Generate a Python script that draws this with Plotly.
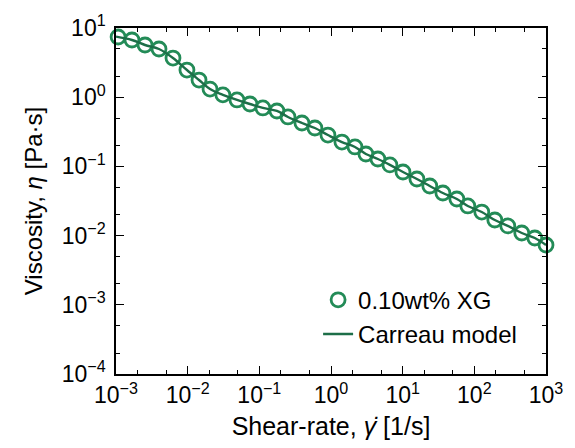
import plotly.graph_objects as go

# Measured data: 0.10wt% XG (shear-rate [1/s], viscosity [Pa·s])
shear_rate = [0.00107, 0.00167, 0.00254, 0.00398, 0.00624, 0.00977, 0.0144, 0.0205,
              0.0310, 0.0488, 0.0740, 0.112, 0.176, 0.251, 0.393, 0.596, 0.906,
              1.42, 2.16, 3.07, 4.51, 6.64, 10.1, 15.8, 23.9, 36.4, 57.0, 81.1,
              127, 193, 293, 459, 698, 1000]
viscosity = [7.41, 6.71, 5.68, 4.97, 3.68, 2.47, 1.77, 1.31, 1.08, 0.912, 0.798,
             0.699, 0.632, 0.518, 0.424, 0.359, 0.284, 0.225, 0.191, 0.151, 0.128,
             0.105, 0.0830, 0.0657, 0.0521, 0.0413, 0.0338, 0.0268, 0.0219, 0.0168,
             0.0138, 0.0109, 0.00923, 0.00731]

# Carreau model curve
model_rate = [0.001, 0.00167, 0.00254, 0.00398, 0.00624, 0.00977, 0.0144, 0.0205,
              0.0310, 0.0488, 0.0740, 0.112, 0.176, 0.251, 0.393, 0.596, 0.906,
              1.42, 2.16, 3.07, 4.51, 6.64, 10.1, 15.8, 23.9, 36.4, 57.0, 81.1,
              127, 193, 293, 459, 698, 1000]
model_visc = [7.5, 6.71, 5.68, 4.97, 3.68, 2.47, 1.77, 1.31, 1.08, 0.912, 0.798,
              0.699, 0.632, 0.518, 0.424, 0.359, 0.284, 0.225, 0.191, 0.151, 0.128,
              0.105, 0.0830, 0.0657, 0.0521, 0.0413, 0.0338, 0.0268, 0.0219, 0.0168,
              0.0138, 0.0109, 0.00923, 0.00731]

x_tickvals = [1e-3, 1e-2, 1e-1, 1e0, 1e1, 1e2, 1e3]
x_ticktext = ["10<sup>−3</sup>", "10<sup>−2</sup>", "10<sup>−1</sup>", "10<sup>0</sup>",
              "10<sup>1</sup>", "10<sup>2</sup>", "10<sup>3</sup>"]
y_tickvals = [1e-4, 1e-3, 1e-2, 1e-1, 1e0, 1e1]
y_ticktext = ["10<sup>−4</sup>", "10<sup>−3</sup>", "10<sup>−2</sup>", "10<sup>−1</sup>",
              "10<sup>0</sup>", "10<sup>1</sup>"]

FONT = "Liberation Sans, Arial, Helvetica, sans-serif"
MARK = "#238b57"
LINE = "#1d6e48"

fig = go.Figure()
fig.add_trace(go.Scatter(
    x=shear_rate, y=viscosity, mode="markers", name="0.10wt% XG",
    marker=dict(symbol="circle-open", size=14, color=MARK, line=dict(width=2.8, color=MARK)),
    cliponaxis=False,
))
fig.add_trace(go.Scatter(
    x=model_rate, y=model_visc, mode="lines", name="Carreau model",
    line=dict(color=LINE, width=2.4, shape="spline"),
))

axis_common = dict(
    type="log", showgrid=False, zeroline=False,
    showline=True, linecolor="black", linewidth=1.5, mirror="ticks",
    ticks="inside", ticklen=8, tickwidth=1.2, tickcolor="black",
    minor=dict(ticks="inside", ticklen=4, tickwidth=1, tickcolor="black", showgrid=False),
    tickfont=dict(family=FONT, size=23, color="black"),
)

fig.update_xaxes(**axis_common, range=[-3, 3], tickvals=x_tickvals, ticktext=x_ticktext,
                 title=dict(text="Shear-rate, <i>γ̇</i> [1/s]",
                            font=dict(family=FONT, size=25, color="black"), standoff=10))
fig.update_yaxes(**axis_common, range=[-4, 1], tickvals=y_tickvals, ticktext=y_ticktext,
                 ticklabelstandoff=4,
                 title=dict(text="Viscosity, <i>η</i> [Pa·s]",
                            font=dict(family=FONT, size=24, color="black"), standoff=12))

fig.update_layout(
    width=575, height=448,
    margin=dict(l=116, r=29, t=28, b=74, autoexpand=False),
    paper_bgcolor="white", plot_bgcolor="white",
    showlegend=True,
    legend=dict(x=0.47, y=0.05, xanchor="left", yanchor="bottom",
                bgcolor="rgba(0,0,0,0)", borderwidth=0,
                font=dict(family=FONT, size=24, color="black"),
                tracegroupgap=0, itemwidth=30),
)

fig.write_html("out.html", config={"displayModeBar": False},
               post_script="document.body.style.margin='0px';")
